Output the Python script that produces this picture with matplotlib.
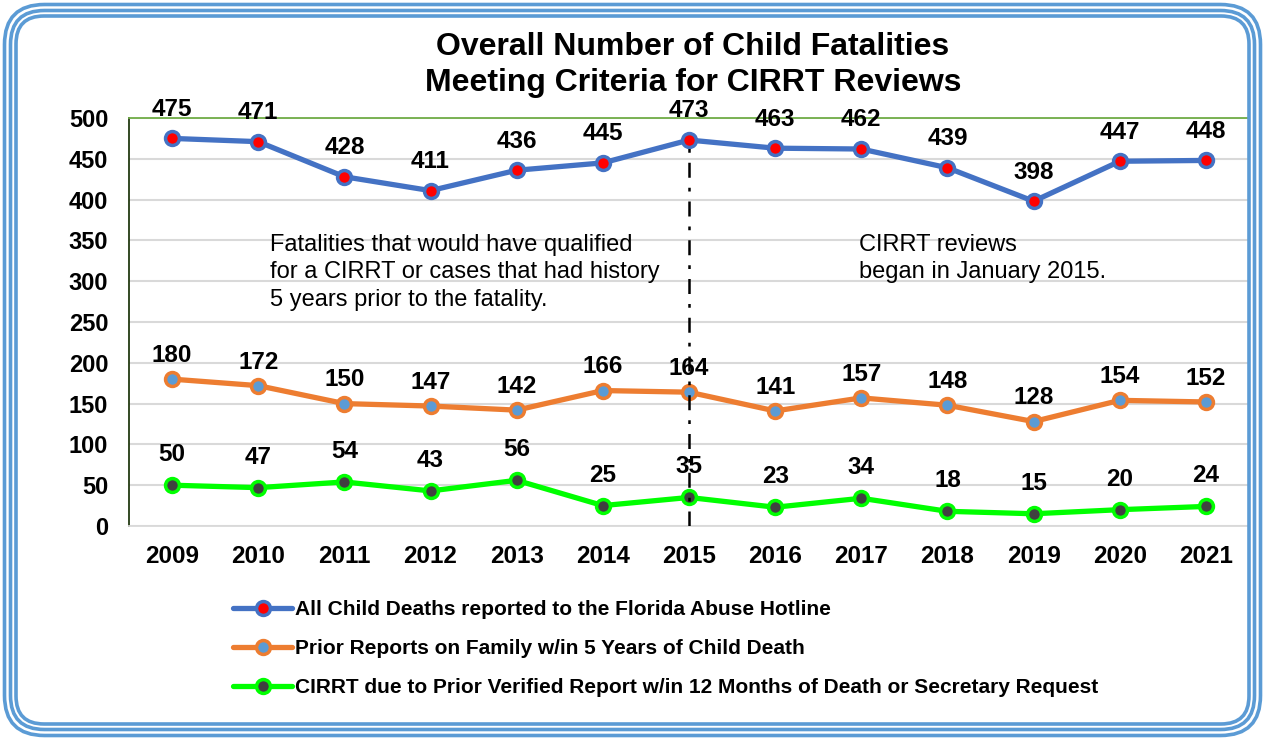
import matplotlib.pyplot as plt
from matplotlib.patches import FancyBboxPatch

plt.rcParams['font.family'] = ['Liberation Sans', 'DejaVu Sans']

years = ['2009', '2010', '2011', '2012', '2013', '2014', '2015',
         '2016', '2017', '2018', '2019', '2020', '2021']
all_deaths = [475, 471, 428, 411, 436, 445, 473, 463, 462, 439, 398, 447, 448]
prior_reports = [180, 172, 150, 147, 142, 166, 164, 141, 157, 148, 128, 154, 152]
cirrt = [50, 47, 54, 43, 56, 25, 35, 23, 34, 18, 15, 20, 24]

labels = ['All Child Deaths reported to the Florida Abuse Hotline',
          'Prior Reports on Family w/in 5 Years of Child Death',
          'CIRRT due to Prior Verified Report w/in 12 Months of Death or Secretary Request']

W, H = 1265, 740
fig = plt.figure(figsize=(W / 100, H / 100), dpi=100)
ax = fig.add_axes([129 / W, 1 - 526 / H, (1249 - 129) / W, (526 - 118) / H])

x = list(range(len(years)))
# values, line colour, marker face, label offset (pt)
series = [
    (all_deaths, '#4472C4', 'red', 21),
    (prior_reports, '#ED7D31', '#5B9BD5', 17),
    (cirrt, '#00FF00', '#404040', 22),
]
for vals, col, face, off in series:
    ax.plot(x, vals, color=col, lw=3.8, marker='o', ms=10, mfc=face,
            mec=col, mew=2.5, solid_capstyle='round', zorder=3)
    for xi, v in zip(x, vals):
        ax.annotate(str(v), (xi, v), xytext=(0, off), textcoords='offset points',
                    ha='center', va='center', fontsize=17.5, fontweight='bold')

# CIRRT start line
ax.plot([6, 6], [0, 473], color='black', lw=1.8, ls=(0, (6, 4, 1.5, 4)), zorder=4)

ax.set_xlim(-0.5, 12.5)
ax.set_ylim(0, 500)
ax.set_yticks(range(0, 501, 50))
ax.set_xticks(x)
ax.set_xticklabels(years)
ax.tick_params(axis='y', length=0, pad=15, labelsize=17)
ax.tick_params(axis='x', length=0, pad=14, labelsize=17.5)
for t in ax.get_xticklabels() + ax.get_yticklabels():
    t.set_fontweight('bold')
ax.grid(axis='y', color='#D9D9D9', lw=1.5)
ax.set_axisbelow(True)
ax.spines['top'].set_color('#70AD47')
ax.spines['right'].set_color('#70AD47')
ax.spines['left'].set_color('#233A12')
ax.spines['bottom'].set_color('#D9D9D9')
for s in ax.spines.values():
    s.set_linewidth(1.3)

ax.text(1.14, 311, 'Fatalities that would have qualified\nfor a CIRRT or cases that had history\n5 years prior to the fatality.',
        fontsize=17, va='center', ha='left', linespacing=1.32)
ax.text(7.97, 328, 'CIRRT reviews\nbegan in January 2015.',
        fontsize=17, va='center', ha='left', linespacing=1.32)

fig.text(693 / W, 1 - 65 / H, 'Overall Number of Child Fatalities\nMeeting Criteria for CIRRT Reviews',
         ha='center', va='center', fontsize=23, fontweight='bold', linespacing=1.3)

handles = ax.get_lines()[:3]
fig.legend(handles, labels, loc='upper left', bbox_to_anchor=(225 / W, 1 - 592 / H),
           frameon=False, prop={'weight': 'bold', 'size': 15}, handlelength=2.8,
           handletextpad=0.15, labelspacing=0.95, borderaxespad=0)

# rounded triple border
for inset, rad in [(4.5, 40), (10.5, 34), (16, 28)]:
    fig.patches.append(FancyBboxPatch(
        ((inset + rad) / 100, (inset + rad) / 100),
        (W - 2 * inset - 2 * rad) / 100, (H - 2 * inset - 2 * rad) / 100,
        boxstyle='round,pad=%f' % (rad / 100), transform=fig.dpi_scale_trans,
        fill=False, ec='#5B9BD5', lw=2.6))

fig.savefig('out.png', dpi=100)
